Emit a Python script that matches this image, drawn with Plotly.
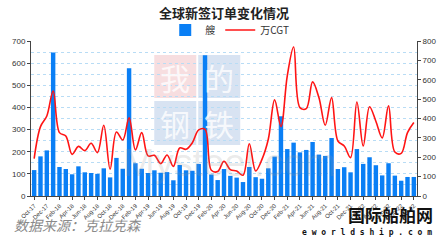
import plotly.graph_objects as go

months = ["Oct-17","Nov-17","Dec-17","Jan-18","Feb-18","Mar-18","Apr-18","May-18","Jun-18","Jul-18","Aug-18","Sep-18",
          "Oct-18","Nov-18","Dec-18","Jan-19","Feb-19","Mar-19","Apr-19","May-19","Jun-19","Jul-19","Aug-19","Sep-19",
          "Oct-19","Nov-19","Dec-19","Jan-20","Feb-20","Mar-20","Apr-20","May-20","Jun-20","Jul-20","Aug-20","Sep-20",
          "Oct-20","Nov-20","Dec-20","Jan-21","Feb-21","Mar-21","Apr-21","May-21","Jun-21","Jul-21","Aug-21","Sep-21",
          "Oct-21","Nov-21","Dec-21","Jan-22","Feb-22","Mar-22","Apr-22","May-22","Jun-22","Jul-22","Aug-22","Sep-22","Oct-22"]

ships = [117,179,206,648,131,122,98,134,107,104,100,125,
         84,172,123,577,148,123,104,116,105,108,71,140,
         116,114,145,636,97,72,122,91,83,63,131,85,
         78,125,178,360,212,241,197,208,244,187,181,262,
         122,130,107,212,145,175,139,93,148,92,69,86,86]

cgt = [193,358,413,542,327,310,215,256,234,272,224,365,
       138,330,289,403,238,327,207,210,167,212,153,248,
       241,275,341,344,133,126,179,136,129,107,270,129,
       189,293,496,358,620,769,456,451,589,508,365,508,
       284,258,198,485,258,461,386,300,465,227,220,327,379]

tick_labels = months[::2]

BLUE = "#0a7ff5"
RED = "#ff1414"

fig = go.Figure()
fig.add_trace(go.Bar(x=months, y=ships, name="艘", marker=dict(color=BLUE, line=dict(width=0)), yaxis="y"))
fig.add_trace(go.Scatter(x=months, y=cgt, name="万CGT", mode="lines",
                         line=dict(color=RED, width=1.6, shape="spline", smoothing=1.0), yaxis="y2"))

L, R, T, B = 24, 428, 41, 196
W = R - L
H = B - T
def px(x): return (x - L) / W
def py(y): return (B - y) / H

shapes = []
tiles = [(153, 197, 55, 98, "rgba(242,200,204,0.6)", "我"),
         (199, 243, 55, 98, "rgba(190,208,234,0.6)", "的"),
         (153, 197, 101, 145, "rgba(190,208,234,0.6)", "钢"),
         (199, 243, 101, 145, "rgba(190,208,234,0.6)", "铁")]
annotations = []
for x0, x1, y0, y1, col, ch in tiles:
    shapes.append(dict(type="rect", xref="paper", yref="paper", x0=px(x0), x1=px(x1), y0=py(y1), y1=py(y0),
                       fillcolor=col, line=dict(width=0), layer="below"))
    annotations.append(dict(text=ch, xref="paper", yref="paper", x=px((x0 + x1) / 2), y=py((y0 + y1) / 2),
                            showarrow=False, font=dict(size=30, color="rgba(255,255,255,0.8)",
                                                       family="Noto Sans CJK SC"),
                            xanchor="center", yanchor="middle"))
annotations.append(dict(text="Mysteel.com", xref="paper", yref="paper", x=px(232), y=py(163),
                        showarrow=False, font=dict(size=38, color="rgba(150,150,150,0.2)", family="Arial"),
                        xanchor="center", yanchor="middle"))

annotations.append(dict(text="<i>数据来源：克拉克森</i>", xref="paper", yref="paper", x=px(4), y=py(225),
                        showarrow=False, xanchor="left", yanchor="middle",
                        font=dict(size=14, color="#8a8a8a", family="Noto Sans CJK SC")))
annotations.append(dict(text="<b>国际船舶网</b>", xref="paper", yref="paper", x=px(447), y=py(214),
                        showarrow=False, xanchor="right", yanchor="middle",
                        font=dict(size=17, color="#111", family="Noto Sans CJK SC")))
annotations.append(dict(text="<b>e w o r l d s h i p . c o m</b>", xref="paper", yref="paper", x=px(446), y=py(232),
                        showarrow=False, xanchor="right", yanchor="middle",
                        font=dict(size=8, color="#111", family="DejaVu Sans Mono")))

fig.update_layout(
    width=448, height=241,
    margin=dict(l=L, r=448 - R, t=T, b=241 - B, pad=0),
    paper_bgcolor="white", plot_bgcolor="white",
    title=dict(text="<b>全球新签订单变化情况</b>", x=0.5, xref="paper", xanchor="center",
               y=1 - 13 / 241, yanchor="middle",
               font=dict(size=13, color="#222", family="Noto Sans CJK SC")),
    legend=dict(orientation="h", x=px(232), y=py(30), xanchor="center", yanchor="middle",
                font=dict(size=10, color="#333", family="Noto Sans CJK SC"),
                itemwidth=30, tracegroupgap=0, bgcolor="rgba(0,0,0,0)"),
    bargap=0.3,
    xaxis=dict(type="category", range=[-0.5, len(months) - 0.5], tickmode="array",
               tickvals=tick_labels, ticktext=tick_labels, tickangle=-45,
               tickfont=dict(size=6, color="#333", family="Arial"),
               ticks="outside", ticklen=3, tickcolor="#444",
               showline=True, linecolor="#444", linewidth=1, showgrid=False, zeroline=False),
    yaxis=dict(range=[0, 700], dtick=100, tickfont=dict(size=8, color="#333", family="Arial"),
               ticks="outside", ticklen=3, tickcolor="#444", showline=True, linecolor="#444", linewidth=1,
               showgrid=True, gridcolor="#b8dcf5", griddash="dot", gridwidth=1, zeroline=False,
               minor=dict(dtick=50, showgrid=True, gridcolor="#b8dcf5", griddash="dot", gridwidth=1)),
    yaxis2=dict(range=[0, 800], dtick=100, overlaying="y", side="right",
                tickfont=dict(size=8, color="#333", family="Arial"),
                ticks="outside", ticklen=3, tickcolor="#444", showline=True, linecolor="#444", linewidth=1,
                showgrid=False, zeroline=False),
    shapes=shapes,
    annotations=annotations,
    showlegend=True,
)

fig.write_html("out.html")
